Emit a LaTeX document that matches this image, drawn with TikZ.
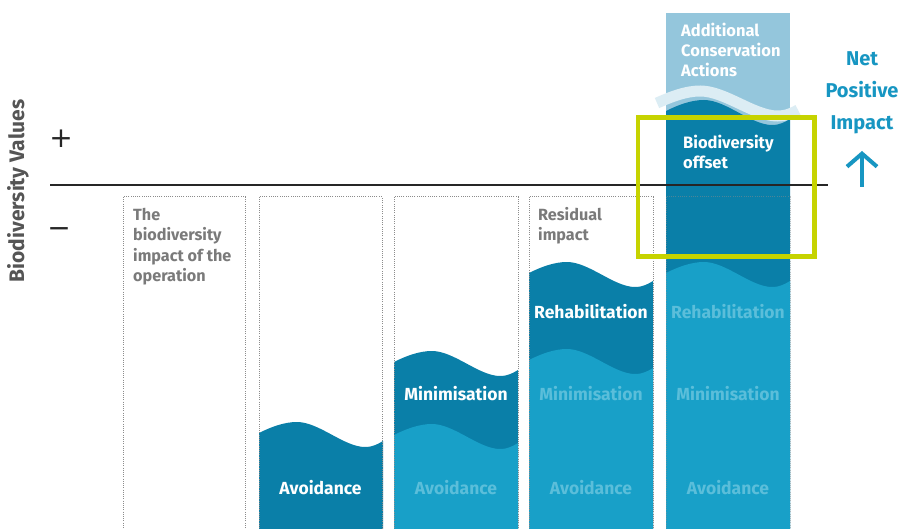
\documentclass[tikz,border=0pt]{standalone}
\usepackage{fontspec}
\setmainfont{Fira Sans}
\newfontfamily\symfont{DejaVu Sans}
\usetikzlibrary{arrows.meta}
\definecolor{darkb}{HTML}{0A7FA8}
\definecolor{lightb}{HTML}{18A0C8}
\definecolor{topb}{HTML}{94C6DC}
\definecolor{ribbonc}{HTML}{DCEDF4}
\definecolor{fadetxt}{HTML}{5BBEDA}
\definecolor{graytxt}{HTML}{7A7A7A}
\definecolor{axistxt}{HTML}{555555}
\definecolor{greenbox}{HTML}{C6D300}
\definecolor{npic}{HTML}{1796C2}
\definecolor{dotc}{HTML}{8C8C8C}
\newcommand\wavefill[3]{%
  \begin{scope}[shift={(#2,#3)}]
    \fill[#1] (0,0) .. controls (12,-6) and (25,-11) .. (38,-11)
      .. controls (60,-11) and (85,14) .. (106,14)
      .. controls (114,14) and (119,11) .. (124,8) -- (124,600) -- (0,600) -- cycle;
  \end{scope}}
\begin{document}
\begin{tikzpicture}[x=1pt,y=-1pt,
  every node/.style={inner sep=0pt},
  lbl/.style={font=\fontsize{17.5}{20}\selectfont\bfseries, text=white, anchor=base},
  fade/.style={lbl, text=fadetxt},
  gtxt/.style={font=\fontsize{16.2}{20.5}\selectfont\bfseries, text=graytxt, align=left, anchor=north west},
  wtxt/.style={font=\fontsize{16.5}{20}\selectfont\bfseries, text=white, align=left, anchor=north west},
  dotbox/.style={draw=dotc, dash pattern=on 1pt off 1.2pt, line width=1pt},
  npitxt/.style={font=\fontsize{20}{32}\selectfont\bfseries, text=npic, align=center, anchor=north},
  signtxt/.style={font=\symfont\fontsize{28}{28}\selectfont, text=black!85}]
\useasboundingbox (0,0) rectangle (901,529);
\clip (0,0) rectangle (901,529);
\fill[white] (0,0) rectangle (901,529);

% column 5 top: additional conservation actions
\fill[topb] (666,13) rectangle (790,130);
\begin{scope}[shift={(657,103)}, xscale=141/124]
  \draw[ribbonc, line width=11pt] (0,0) .. controls (12,-6) and (25,-12) .. (38,-12)
      .. controls (60,-12) and (85,13) .. (106,13)
      .. controls (114,13) and (119,10) .. (124,7);
\end{scope}
\wavefill{darkb}{666}{111}
\wavefill{lightb}{666}{273}

% column 2
\wavefill{darkb}{259}{433}
% column 3
\wavefill{darkb}{394}{362}
\wavefill{lightb}{394}{435}
% column 4
\wavefill{darkb}{529}{273}
\wavefill{lightb}{529}{360}

% texts
\node[gtxt] (t1) at (133,208) {The\\biodiversity\\impact of the\\operation};
\node[gtxt] (t4) at (538,207) {Residual\\impact};
\node[wtxt] (t5a) at (681,22.5) {Additional\\Conservation\\Actions};
\node[wtxt] (t5b) at (683,135) {Biodiversity\\offset};

\node[lbl] (a2) at (320.5,494) {Avoidance};
\node[fade] (a3) at (456,494) {Avoidance};
\node[fade] (a4) at (591,494) {Avoidance};
\node[fade] (a5) at (728,494) {Avoidance};
\node[lbl] (m3) at (456,400) {Minimisation};
\node[fade] (m4) at (591,400) {Minimisation};
\node[fade] (m5) at (728,400) {Minimisation};
\node[lbl] (r4) at (591,318) {Rehabilitation};
\node[fade] (r5) at (728,318) {Rehabilitation};

% dotted column frames
\draw[dotbox] (123,197) rectangle (245,560);
\draw[dotbox] (259,197) rectangle (382,560);
\draw[dotbox] (394,197) rectangle (518,560);
\draw[dotbox] (529,197) rectangle (653,560);
\draw[dotbox, draw opacity=0.5] (666,197) rectangle (790,560);

% baseline
\draw[line width=2pt, black!85] (50,185) -- (828,185);

% highlight frame
\draw[greenbox, line width=4.5pt] (638,117.5) rectangle (814.5,256.5);

% net positive impact
\node[npitxt] (npi) at (862,51.5) {Net\\Positive\\Impact};
\coordinate (arrbase) at (862,187);
\coordinate (arrtip) at (862,151);
\draw[npic, line width=4pt, -{Straight Barb[length=13pt,width=30pt]}] (arrbase) -- (arrtip);

% axis
\node[rotate=90, font=\fontsize{21}{21}\selectfont\bfseries, text=axistxt] (axis) at (18,191) {Biodiversity Values};
\node[signtxt] (plus) at (61,139) {+};
\node[signtxt] (minus) at (59,233) {−};
\end{tikzpicture}
\end{document}
